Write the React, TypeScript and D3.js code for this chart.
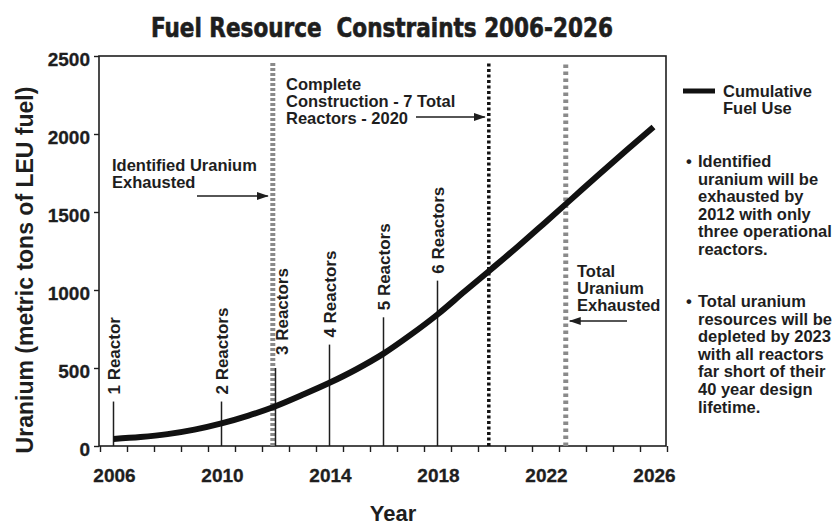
import * as d3 from "d3";
import { useEffect, useRef } from "react";

const years = [2006, 2007, 2008, 2009, 2010, 2011, 2012, 2013, 2014, 2015, 2016, 2017, 2018, 2019, 2020, 2021, 2022, 2023, 2024, 2025, 2026];
const fuelUse = [45, 57, 76, 105, 145, 195, 255, 328, 405, 492, 592, 712, 843, 990, 1135, 1282, 1435, 1589, 1743, 1896, 2045];

const yearLabels = [2006, 2010, 2014, 2018, 2022, 2026];
const yTicks = [0, 500, 1000, 1500, 2000, 2500];

const reactorYears = [2006, 2010, 2012, 2014, 2016, 2018];
const reactorTops = [285, 285, 500, 650, 825, 1060];
const reactorLabels = ["1 Reactor", "2 Reactors", "3 Reactors", "4 Reactors", "5 Reactors", "6 Reactors"];

// identified uranium gone, construction complete, total uranium gone
const eventYears = [2011.9, 2019.9, 2022.75];

const bullet1 = ["Identified", "uranium will be", "exhausted by", "2012 with only", "three operational", "reactors."];
const bullet2 = ["Total uranium", "resources will be", "depleted by 2023", "with all reactors", "far short of their", "40 year design", "lifetime."];

const FONT = "'Liberation Sans', Arial, Helvetica, sans-serif";
const INK = "#1e1e1e";

export default function App() {
    const ref = useRef<SVGSVGElement | null>(null);

    useEffect(() => {
        if (!ref.current) return;

        const width = 840;
        const height = 525;
        const plot = { left: 99, right: 666, top: 56, bottom: 446 };

        const svg = d3.select(ref.current);
        svg.selectAll("*").remove();
        svg.attr("font-family", FONT).attr("font-weight", "bold").attr("fill", INK);

        const x = d3.scaleLinear().domain([2005.5, 2026.5]).range([plot.left + 1, plot.right + 1]);
        const y = d3.scaleLinear().domain([0, 2500]).range([plot.bottom, plot.top]);

        // defs: arrow head
        svg
            .append("defs")
            .append("marker")
            .attr("id", "arrow")
            .attr("markerUnits", "userSpaceOnUse")
            .attr("markerWidth", 12)
            .attr("markerHeight", 8)
            .attr("refX", 11)
            .attr("refY", 4)
            .attr("orient", "auto")
            .append("path")
            .attr("d", "M0,0 L12,4 L0,8 Z")
            .attr("fill", INK);

        // title (heavy condensed look)
        svg
            .append("text")
            .attr("x", 151)
            .attr("y", 37)
            .attr("font-family", "'Liberation Sans Narrow', 'DejaVu Sans Condensed', 'Liberation Sans', sans-serif")
            .attr("font-size", 26)
            .attr("textLength", 462)
            .attr("lengthAdjust", "spacingAndGlyphs")
            .attr("xml:space", "preserve")
            .attr("stroke", INK)
            .attr("stroke-width", 0.6)
            .text("Fuel Resource  Constraints 2006-2026");

        // plot frame
        svg
            .append("rect")
            .attr("x", plot.left)
            .attr("y", plot.top)
            .attr("width", plot.right - plot.left)
            .attr("height", plot.bottom - plot.top)
            .attr("fill", "none")
            .attr("stroke", INK)
            .attr("stroke-width", 1.6);

        // y axis
        const yAxis = svg
            .append("g")
            .attr("transform", `translate(${plot.left},0)`)
            .call(d3.axisLeft(y).tickValues(yTicks).tickSize(5).tickPadding(4).tickFormat(d3.format("d")));
        yAxis.select(".domain").remove();
        yAxis.selectAll("line").attr("stroke", INK).attr("stroke-width", 1.4);
        yAxis
            .selectAll("text")
            .attr("font-family", FONT)
            .attr("font-size", 19)
            .attr("font-weight", "bold")
            .attr("fill", INK)
            .attr("stroke", INK)
            .attr("stroke-width", 0.3)
            .attr("dy", "0.5em");

        // x axis: ticks between the yearly categories
        const xAxis = svg
            .append("g")
            .attr("transform", `translate(0,${plot.bottom})`)
            .call(
                d3
                    .axisBottom(x)
                    .tickValues(years.map((d) => d - 0.5).concat([2026.5]))
                    .tickSize(6)
                    .tickFormat(() => "")
            );
        xAxis.select(".domain").remove();
        xAxis.selectAll("line").attr("stroke", INK).attr("stroke-width", 1.4);

        svg
            .append("g")
            .selectAll("text")
            .data(yearLabels)
            .join("text")
            .attr("x", (d) => x(d) + 1)
            .attr("y", 482)
            .attr("text-anchor", "middle")
            .attr("font-size", 19)
            .attr("stroke", INK)
            .attr("stroke-width", 0.3)
            .text((d) => d);

        // axis titles
        svg
            .append("text")
            .attr("x", 393)
            .attr("y", 521)
            .attr("text-anchor", "middle")
            .attr("font-size", 22)
            .text("Year");

        svg
            .append("text")
            .attr("transform", "translate(33,270) rotate(-90)")
            .attr("text-anchor", "middle")
            .attr("font-size", 23)
            .text("Uranium (metric tons of LEU fuel)");

        // event marker lines
        const eventStyles = [
            { color: "#8a8a8a", w: 5, dash: "3,2" },
            { color: "#111", w: 3.5, dash: "3,2.5" },
            { color: "#8a8a8a", w: 5, dash: "3.5,3.5" },
        ];
        svg
            .append("g")
            .selectAll("line")
            .data(eventYears)
            .join("line")
            .attr("x1", (d) => x(d))
            .attr("x2", (d) => x(d))
            .attr("y1", y(0))
            .attr("y2", y(2455))
            .attr("stroke", (_, i) => eventStyles[i].color)
            .attr("stroke-width", (_, i) => eventStyles[i].w)
            .attr("stroke-dasharray", (_, i) => eventStyles[i].dash);

        // reactor start lines
        svg
            .append("g")
            .selectAll("line")
            .data(reactorYears)
            .join("line")
            .attr("x1", (d) => x(d))
            .attr("x2", (d) => x(d))
            .attr("y1", y(0))
            .attr("y2", (_, i) => y(reactorTops[i]))
            .attr("stroke", INK)
            .attr("stroke-width", 1.5);

        svg
            .append("g")
            .selectAll("text")
            .data(reactorYears)
            .join("text")
            .attr("transform", (d, i) => {
                const shift = i === 2 ? 12 : 6;
                const gap = i === 2 ? 13 : 7;
                return `translate(${x(d) + shift},${y(reactorTops[i]) - gap}) rotate(-90)`;
            })
            .attr("font-size", 17)
            .text((_, i) => reactorLabels[i]);

        // cumulative fuel use curve
        const line = d3
            .line<number>()
            .x((_, i) => x(years[i]))
            .y((d) => y(d))
            .curve(d3.curveMonotoneX);
        svg
            .append("path")
            .datum(fuelUse)
            .attr("d", line)
            .attr("fill", "none")
            .attr("stroke", "#111")
            .attr("stroke-width", 6);

        // annotations
        const addLines = (lines: string[], x0: number, y0: number, step: number) => {
            const t = svg.append("text").attr("font-size", 16.5);
            lines.forEach((s, i) => {
                t.append("tspan").attr("x", x0).attr("y", y0 + i * step).text(s);
            });
        };
        const arrow = (x1: number, x2: number, yy: number) => {
            svg
                .append("line")
                .attr("x1", x1)
                .attr("x2", x2)
                .attr("y1", yy)
                .attr("y2", yy)
                .attr("stroke", INK)
                .attr("stroke-width", 1.5)
                .attr("marker-end", "url(#arrow)");
        };

        addLines(["Identified Uranium", "Exhausted"], 112, 171, 17);
        arrow(197, x(eventYears[0]) - 5, 196);

        addLines(["Complete", "Construction - 7 Total", "Reactors - 2020"], 286, 90, 17);
        arrow(416, x(eventYears[1]) - 4, 117);

        addLines(["Total", "Uranium", "Exhausted"], 577, 277, 17);
        arrow(627, x(eventYears[2]) + 4, 321);

        // legend
        svg
            .append("line")
            .attr("x1", 683)
            .attr("x2", 715)
            .attr("y1", 91)
            .attr("y2", 91)
            .attr("stroke", "#111")
            .attr("stroke-width", 5);
        addLines(["Cumulative", "Fuel Use"], 723, 97, 17);

        // notes
        svg.append("text").attr("x", 686).attr("y", 167).attr("font-size", 16.5).text("•");
        addLines(bullet1, 698, 167, 17.6);
        svg.append("text").attr("x", 686).attr("y", 307).attr("font-size", 16.5).text("•");
        addLines(bullet2, 698, 307, 17.6);

        svg.attr("width", width).attr("height", height);
    }, []);

    return (
        <div style={{ position: "absolute", left: 0, top: 0, width: 840, height: 525, background: "#fff" }}>
            <svg ref={ref} width={840} height={525}></svg>
        </div>
    );
}
